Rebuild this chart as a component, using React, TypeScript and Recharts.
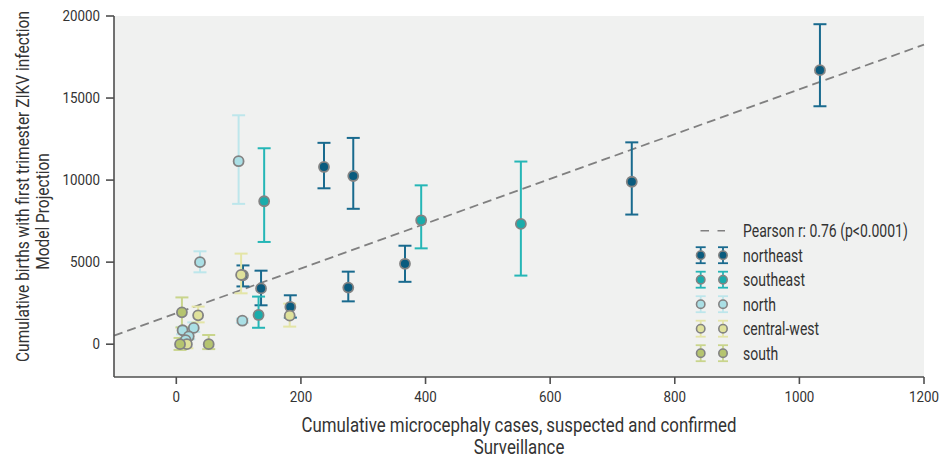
import React from 'react';
import {
  ScatterChart,
  Scatter,
  XAxis,
  YAxis,
  CartesianGrid,
  ErrorBar,
  ReferenceLine,
} from 'recharts';

// [surveillance cases, model projection, lower bound, upper bound]
type Pt = [number, number, number, number];

const northeast: Pt[] = [
  [1033, 16700, 14500, 19500],
  [731, 9900, 7900, 12300],
  [237, 10800, 9500, 12270],
  [284, 10250, 8250, 12570],
  [367, 4900, 3800, 6000],
  [276, 3450, 2610, 4420],
  [136, 3400, 2370, 4480],
  [107, 4200, 3520, 4800],
  [183, 2270, 1620, 2980],
];

const southeast: Pt[] = [
  [141, 8710, 6230, 11940],
  [393, 7550, 5840, 9680],
  [553, 7330, 4180, 11130],
  [132, 1780, 1000, 2900],
];

const north: Pt[] = [
  [100, 11150, 8550, 13950],
  [38, 5000, 4380, 5660],
  [106, 1430, 1300, 1560],
  [28, 990, 750, 1330],
  [10, 850, 600, 1050],
  [20, 480, 300, 650],
  [15, 250, 100, 420],
];

const centralWest: Pt[] = [
  [104, 4220, 3100, 5520],
  [182, 1740, 1070, 2470],
  [35, 1760, 1330, 2290],
  [17, 0, -250, 300],
];

const south: Pt[] = [
  [9, 1940, 1020, 2850],
  [6, 0, -350, 380],
  [52, 0, -300, 560],
];

const regionNames = ['northeast', 'southeast', 'north', 'central-west', 'south'];
const regionPoints = [northeast, southeast, north, centralWest, south];
const markerFills = ['#0a5b7e', '#1aacab', '#aadfe5', '#dfe19b', '#b5c46f'];
const barColors = ['#196a8e', '#25b6b6', '#bde6eb', '#e4e5a6', '#c9d58c'];

const xTicks = [0, 200, 400, 600, 800, 1000, 1200];
const yTicks = [0, 5000, 10000, 15000, 20000];
const fitLine = [
  { x: -100, y: 520 },
  { x: 1200, y: 18260 },
];
const pearsonLabel = 'Pearson r: 0.76 (p<0.0001)';
const xTitle = ['Cumulative microcephaly cases, suspected and confirmed', 'Surveillance'];
const yTitle = ['Cumulative births with first trimester ZIKV infection', 'Model Projection'];

const FONT = 'Roboto, "DejaVu Sans", sans-serif';
const TEXT = '#333333';
const SQUEEZE = 0.86;
const AXIS = '#4f4f4f';

const W = 941;
const H = 462;

const toRows = (pts: Pt[]) =>
  pts.map(([x, y, lo, hi]) => ({ x, y, err: [y - lo, hi - y] }));

const Dot = (fill: string) => (props: any) => {
  const { cx, cy } = props;
  if (cx == null || cy == null) return <g />;
  return <circle cx={cx} cy={cy} r={5} fill={fill} stroke="#838383" strokeWidth={1.8} />;
};

const XTick = (props: any) => {
  const { x, y, payload } = props;
  return (
    <g transform={`translate(${x},${y}) scale(0.92,1)`}>
      <text x={0} y={0} dy="0.71em" textAnchor="middle" fontSize={14.5} fill={TEXT} fontFamily={FONT}>
        {payload.value}
      </text>
    </g>
  );
};

const YTick = (props: any) => {
  const { x, y, payload } = props;
  return (
    <g transform={`translate(${x},${y}) scale(0.92,1)`}>
      <text x={0} y={0} dy="0.355em" textAnchor="end" fontSize={14.5} fill={TEXT} fontFamily={FONT}>
        {payload.value}
      </text>
    </g>
  );
};

const XTitle = (props: any) => {
  const vb = props.viewBox || { x: 0, y: 0, width: 0 };
  const cx = vb.x + vb.width / 2;
  return (
    <g>
      {xTitle.map((line, i) => (
        <g key={i} transform={`translate(${cx},${vb.y + 55 + i * 21.5}) scale(${SQUEEZE},1)`}>
          <text x={0} y={0} textAnchor="middle" fontSize={19.6} fill={TEXT} fontFamily={FONT}>
            {line}
          </text>
        </g>
      ))}
    </g>
  );
};

const YTitle = (props: any) => {
  const vb = props.viewBox || { x: 0, y: 0, height: 0 };
  const cy = vb.y + vb.height / 2;
  const pos = [
    { x: vb.x - 25, y: cy - 10 },
    { x: vb.x - 5, y: cy + 15 },
  ];
  return (
    <g>
      {yTitle.map((line, i) => (
        <g key={i} transform={`translate(${pos[i].x},${pos[i].y}) rotate(-90) scale(${SQUEEZE},1)`}>
          <text x={0} y={0} textAnchor="middle" fontSize={18} fill={TEXT} fontFamily={FONT}>
            {line}
          </text>
        </g>
      ))}
    </g>
  );
};

const LegendBox = () => {
  const rowY = (i: number) => 17.7 + i * 24.5;
  const textX = 55;
  const squeeze = 0.8;
  return (
    <svg
      width={250}
      height={160}
      style={{ position: 'absolute', left: 688, top: 213, display: 'block' }}
    >
      <line x1={12.5} x2={37} y1={rowY(0)} y2={rowY(0)} stroke="#808080" strokeWidth={1.6} strokeDasharray="8.5 8.5" />
      <g transform={`translate(${textX},${rowY(0)}) scale(${squeeze},1)`}>
        <text x={0} y={0} dy="0.36em" fontSize={17.5} fill={TEXT} fontFamily={FONT}>
          {pearsonLabel}
        </text>
      </g>
      {regionNames.map((name, i) => {
        const y = rowY(i + 1);
        return (
          <g key={name}>
            {[12.7, 35].map((mx) => (
              <g key={mx}>
                <line x1={mx} x2={mx} y1={y - 8} y2={y + 8} stroke={barColors[i]} strokeWidth={1.8} />
                <line x1={mx - 5} x2={mx + 5} y1={y - 8} y2={y - 8} stroke={barColors[i]} strokeWidth={1.8} />
                <line x1={mx - 5} x2={mx + 5} y1={y + 8} y2={y + 8} stroke={barColors[i]} strokeWidth={1.8} />
                <circle cx={mx} cy={y} r={4.2} fill={markerFills[i]} stroke="#838383" strokeWidth={1.6} />
              </g>
            ))}
            <g transform={`translate(${textX},${y}) scale(${squeeze},1)`}>
              <text x={0} y={0} dy="0.36em" fontSize={17.5} fill={TEXT} fontFamily={FONT}>
                {name}
              </text>
            </g>
          </g>
        );
      })}
    </svg>
  );
};

export default function App() {
  return (
    <div style={{ position: 'relative', width: W, height: H, overflow: 'hidden', fontFamily: FONT }}>
      <style>{'html, body { margin: 0; padding: 0; overflow: hidden; }'}</style>
      <ScatterChart
        width={W}
        height={H}
        margin={{ top: 16, right: 17, bottom: 25, left: 54 }}
        style={{ display: 'block' }}
      >
        <CartesianGrid fill="#f0f1f0" stroke="none" horizontal={false} vertical={false} />
        <XAxis
          type="number"
          dataKey="x"
          domain={[-100, 1200]}
          ticks={xTicks}
          allowDataOverflow
          height={60}
          tickSize={7}
          tickMargin={8}
          stroke={AXIS}
          strokeWidth={1.6}
          tick={<XTick />}
          label={<XTitle />}
        />
        <YAxis
          type="number"
          dataKey="y"
          domain={[-2000, 20000]}
          ticks={yTicks}
          allowDataOverflow
          width={60}
          tickSize={8}
          tickMargin={6}
          stroke={AXIS}
          strokeWidth={1.6}
          tick={<YTick />}
          label={<YTitle />}
        />
        <ReferenceLine
          segment={fitLine}
          stroke="#808080"
          strokeWidth={1.8}
          strokeDasharray="9 5"
        />
        {regionNames.map((name, i) => (
          <Scatter
            key={name}
            name={name}
            data={toRows(regionPoints[i])}
            fill={markerFills[i]}
            shape={Dot(markerFills[i])}
            isAnimationActive={false}
          >
            <ErrorBar
              dataKey="err"
              direction="y"
              width={6.5}
              stroke={barColors[i]}
              strokeWidth={2}
              isAnimationActive={false}
            />
          </Scatter>
        ))}
      </ScatterChart>
      <LegendBox />
    </div>
  );
}
